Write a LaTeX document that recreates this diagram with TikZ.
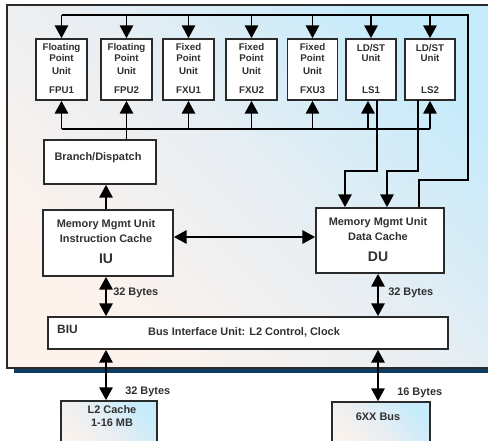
\documentclass[tikz,border=0pt]{standalone}
\usepackage{fontspec}
\setmainfont{Liberation Sans}
\usetikzlibrary{arrows.meta}
\definecolor{bgblue}{HTML}{C6EBFB}
\definecolor{bgmid}{HTML}{E9EEF2}
\definecolor{bgpeach}{HTML}{FEF3EC}
\definecolor{navy}{HTML}{0E3B60}
\definecolor{edge}{HTML}{2A2A2A}
\definecolor{txt}{HTML}{303030}
\begin{document}
\begin{tikzpicture}[x=0.75pt,y=-0.75pt,
  box/.style={draw=edge, line width=1.3pt, fill=white, inner sep=0pt, rectangle},
  gbox/.style={draw=edge, line width=1.3pt, inner sep=0pt, rectangle, grad},
  grad/.style={bottom color=bgpeach, top color=bgblue, middle color=bgmid, shading angle=-45},
  wire/.style={draw=black, line width=1.2pt},
  tip/.tip={Triangle[width=10pt,length=9.5pt]},
  arr/.style={wire, -tip},
  darr/.style={wire, tip-tip},
  ut/.style={font=\bfseries\fontsize{7.3}{8}\selectfont, text=txt, inner sep=0pt},
  lt/.style={font=\bfseries\fontsize{8.2}{9}\selectfont, text=txt, inner sep=0pt},
  bt/.style={font=\bfseries\fontsize{10.5}{12}\selectfont, text=txt, inner sep=0pt}]
\useasboundingbox (0,0) rectangle (488,440);
\clip (0,0) rectangle (488,440);
% frame with shadow
\fill[navy] (14,10) rectangle (496,373);
\draw[draw=edge, line width=1pt, grad] (7,5) rectangle (490,368);
% execution units
\node[box, minimum width=51*0.75pt, minimum height=61*0.75pt] (fpu1) at (61.5,69.5) {};
\node[box, minimum width=51*0.75pt, minimum height=61*0.75pt] (fpu2) at (126.5,69.5) {};
\node[box, minimum width=51*0.75pt, minimum height=61*0.75pt] (fxu1) at (188.5,69.5) {};
\node[box, minimum width=51*0.75pt, minimum height=61*0.75pt] (fxu2) at (251.5,69.5) {};
\node[box, minimum width=50*0.75pt, minimum height=61*0.75pt] (fxu3) at (312.5,69.5) {};
\node[box, minimum width=50*0.75pt, minimum height=61*0.75pt] (ls1) at (371,69.5) {};
\node[box, minimum width=50*0.75pt, minimum height=61*0.75pt] (ls2) at (430,69.5) {};
% unit texts
\foreach \n/\a/\b in {fpu1/Floating/FPU1, fpu2/Floating/FPU2}{
  \node[ut] at ([yshift=-10*0.75pt]\n.north) {\a};
  \node[ut] at ([yshift=-20*0.75pt]\n.north) {Point};
  \node[ut] at ([yshift=-33*0.75pt]\n.north) {Unit};
  \node[ut] at ([yshift=-52*0.75pt]\n.north) {\b};
}
\foreach \n/\b in {fxu1/FXU1, fxu2/FXU2, fxu3/FXU3}{
  \node[ut] at ([yshift=-8.5*0.75pt]\n.north) {Fixed};
  \node[ut] at ([yshift=-20*0.75pt]\n.north) {Point};
  \node[ut] at ([yshift=-33*0.75pt]\n.north) {Unit};
  \node[ut] at ([yshift=-52*0.75pt]\n.north) {\b};
}
\foreach \n/\b in {ls1/LS1, ls2/LS2}{
  \node[ut] at ([yshift=-9.5*0.75pt]\n.north) {LD/ST};
  \node[ut] at ([yshift=-20*0.75pt]\n.north) {Unit};
  \node[ut] at ([yshift=-52*0.75pt]\n.north) {\b};
}
% other blocks
\node[box, minimum width=112*0.75pt, minimum height=44*0.75pt] (bd) at (100,162) {};
\node[lt] at (98,158) {Branch/Dispatch};
\node[box, minimum width=130*0.75pt, minimum height=66*0.75pt] (iu) at (108,243) {};
\node[lt] at (106,225) {Memory Mgmt Unit};
\node[lt] at (106,239) {Instruction Cache};
\node[bt] at (106,259) {IU};
\node[box, minimum width=128*0.75pt, minimum height=65*0.75pt] (du) at (380,240.5) {};
\node[lt] at (378,223) {Memory Mgmt Unit};
\node[lt] at (378,237) {Data Cache};
\node[bt] at (378,257) {DU};
\node[box, minimum width=400*0.75pt, minimum height=32*0.75pt] (biu) at (248,333) {};
\node[font=\bfseries\fontsize{9}{10}\selectfont, text=txt, inner sep=0pt] at (67.5,329) {BIU};
\node[lt] at (244,332) {Bus Interface Unit: L2 Control, Clock};
\node[gbox, minimum width=96*0.75pt, minimum height=60*0.75pt] (l2) at (109,431) {};
\node[lt] at (112,410) {L2 Cache};
\node[lt] at (112,423) {1-16 MB};
\node[gbox, minimum width=98*0.75pt, minimum height=60*0.75pt] (bus) at (381,432) {};
\node[lt] at (378,417) {6XX Bus};
% coordinates
\coordinate (topbus) at (468,15);
\coordinate (botbus) at (430,129);
\coordinate (c1) at (468,180);
\coordinate (c2) at (419,180);
\coordinate (l1a) at (377,100);
\coordinate (l1b) at (377,171);
\coordinate (l1c) at (345,171);
\coordinate (l2a) at (418,100);
\coordinate (l2b) at (418,171);
\coordinate (l2c) at (387,171);
% top bus
\draw[wire] (fpu1.north |- topbus) -- (topbus) -- (c1) -- (c2) -- (c2 |- du.north);
\foreach \n in {fpu1,fpu2,fxu1,fxu2,fxu3,ls1,ls2}
  \draw[arr] (\n.north |- topbus) -- (\n.north);
% bottom bus
\draw[wire] (fpu1.south |- botbus) -- (botbus);
\foreach \n in {fpu1,fpu2,fxu1,fxu2,fxu3,ls2}
  \draw[arr] (\n.south |- botbus) -- (\n.south);
\draw[arr] (368,129) -- (ls1.south -| 368,0);
\draw[wire] (fpu2.south |- botbus) -- (fpu2.south |- bd.north);
% LS to DU
\draw[arr] (l1a) -- (l1b) -- (l1c) -- (l1c |- du.north);
\draw[arr] (l2a) -- (l2b) -- (l2c) -- (l2c |- du.north);
% other connections
\draw[arr] (iu.north -| 106,0) -- (bd.south -| 106,0);
\draw[darr] (iu.east |- 0,237) -- (du.west |- 0,237);
\draw[darr] (iu.south -| 106,0) -- (biu.north -| 106,0);
\draw[darr] (du.south -| 378,0) -- (biu.north -| 378,0);
\draw[darr] (biu.south -| 106,0) -- (l2.north -| 106,0);
\draw[darr] (biu.south -| 378,0) -- (bus.north -| 378,0);
% byte labels
\node[lt, anchor=west] at (113,293) {32 Bytes};
\node[lt, anchor=west] at (388,293) {32 Bytes};
\node[lt, anchor=west] at (125,392) {32 Bytes};
\node[lt, anchor=west] at (397,393) {16 Bytes};
\end{tikzpicture}
\end{document}
